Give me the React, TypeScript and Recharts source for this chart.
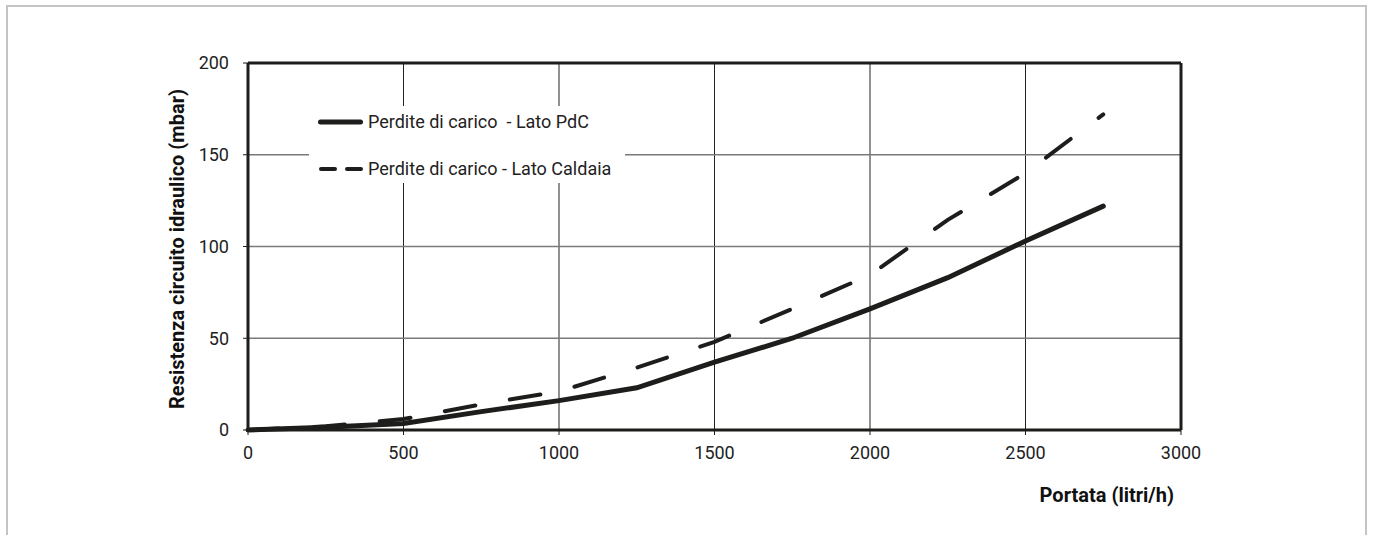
import React from 'react';
import { LineChart, Line, XAxis, YAxis, CartesianGrid, Legend, ReferenceLine } from 'recharts';

// portata (litri/h)
const flowRates = [0, 250, 500, 750, 1000, 1250, 1500, 1750, 2000, 2250, 2500, 2750];
// perdite di carico lato PdC (mbar)
const lossPdC = [0, 1.5, 3.5, 10, 16, 23, 37, 50, 66, 83, 103, 122];
// perdite di carico lato Caldaia (mbar)
const lossCaldaia = [0, 2, 6, 14, 21, 34, 48, 66, 84.5, 114.5, 140, 172];

const xTicks = [0, 500, 1000, 1500, 2000, 2500, 3000];
const yTicks = [0, 50, 100, 150, 200];

const namePdC = 'Perdite di carico  - Lato PdC';
const nameCaldaia = 'Perdite di carico - Lato Caldaia';

const data = flowRates.map((q, i) => ({ q, pdc: lossPdC[i], caldaia: lossCaldaia[i] }));

const ink = '#1d1d1b';
const font = 'Roboto, "DejaVu Sans", sans-serif';

const LegendBox = (props: any) => {
  const items = props.payload || [];
  return (
    <div style={{ position: 'relative', width: 316, height: 77, background: '#fff' }}>
      <svg width={316} height={77} style={{ position: 'absolute', left: 0, top: 0 }}>
        {items.map((it: any, i: number) => {
          const y = 16 + i * 47;
          const dashed = !!(it.payload && it.payload.strokeDasharray);
          return dashed ? (
            <g key={i} stroke={ink} strokeWidth={4} strokeLinecap="round">
              <line x1={12} y1={y} x2={26} y2={y} />
              <line x1={38} y1={y} x2={52} y2={y} />
            </g>
          ) : (
            <line key={i} x1={11.5} y1={y} x2={51.5} y2={y} stroke={ink} strokeWidth={5} strokeLinecap="round" />
          );
        })}
      </svg>
      {items.map((it: any, i: number) => (
        <div
          key={'t' + i}
          style={{
            position: 'absolute',
            left: 59,
            top: 16 + i * 47 - 11,
            height: 22,
            lineHeight: '22px',
            fontSize: 18,
            color: '#222',
            whiteSpace: 'pre',
            fontFamily: font,
          }}
        >
          {it.value}
        </div>
      ))}
    </div>
  );
};

export default function App() {
  return (
    <div style={{ position: 'absolute', left: 0, top: 0, width: 1373, height: 535, overflow: 'hidden', background: '#fff', fontFamily: font }}>
      <div style={{ position: 'absolute', left: 6, top: 5, width: 1357, height: 600, border: '2px solid #c4c4c4' }} />
      <div style={{ position: 'absolute', left: 0, top: 0 }}>
        <LineChart width={1373} height={535} data={data} margin={{ top: 63, right: 192, bottom: 75, left: 188 }}>
          <CartesianGrid horizontal={false} stroke="#222" strokeWidth={1} />
          <CartesianGrid vertical={false} stroke="#7a7a7a" strokeWidth={1.5} />
          <XAxis
            dataKey="q"
            type="number"
            domain={[0, 3000]}
            ticks={xTicks}
            height={30}
            tickSize={5}
            tickMargin={11}
            axisLine={{ stroke: ink, strokeWidth: 3 }}
            tickLine={{ stroke: ink }}
            tick={{ fontSize: 18, fill: '#222', fontFamily: font }}
          />
          <YAxis
            type="number"
            domain={[0, 200]}
            ticks={yTicks}
            width={60}
            tickSize={5}
            tickMargin={14}
            axisLine={{ stroke: ink, strokeWidth: 3 }}
            tickLine={{ stroke: ink }}
            tick={{ fontSize: 18, fill: '#222', fontFamily: font }}
          />
          <ReferenceLine y={200} stroke={ink} strokeWidth={3} />
          <ReferenceLine x={3000} stroke={ink} strokeWidth={3} />
          <Legend
            layout="vertical"
            align="center"
            verticalAlign="middle"
            content={<LegendBox />}
            wrapperStyle={{ left: 309, top: 106, width: 316, height: 77 }}
          />
          <Line
            type="linear"
            dataKey="pdc"
            name={namePdC}
            stroke={ink}
            strokeWidth={5}
            strokeLinecap="round"
            dot={false}
            activeDot={false}
            isAnimationActive={false}
          />
          <Line
            type="linear"
            dataKey="caldaia"
            name={nameCaldaia}
            stroke={ink}
            strokeWidth={4}
            strokeLinecap="round"
            strokeDasharray="31 35"
            dot={false}
            activeDot={false}
            isAnimationActive={false}
          />
        </LineChart>
      </div>
      <div
        style={{
          position: 'absolute',
          left: 177,
          top: 249,
          transform: 'translate(-50%, -50%) rotate(-90deg)',
          whiteSpace: 'nowrap',
          fontSize: 20,
          fontWeight: 'bold',
          color: '#111',
        }}
      >
        Resistenza circuito idraulico (mbar)
      </div>
      <div
        style={{
          position: 'absolute',
          left: 1174,
          top: 495,
          transform: 'translate(-100%, -50%)',
          whiteSpace: 'nowrap',
          fontSize: 20,
          fontWeight: 'bold',
          color: '#111',
        }}
      >
        Portata (litri/h)
      </div>
    </div>
  );
}
